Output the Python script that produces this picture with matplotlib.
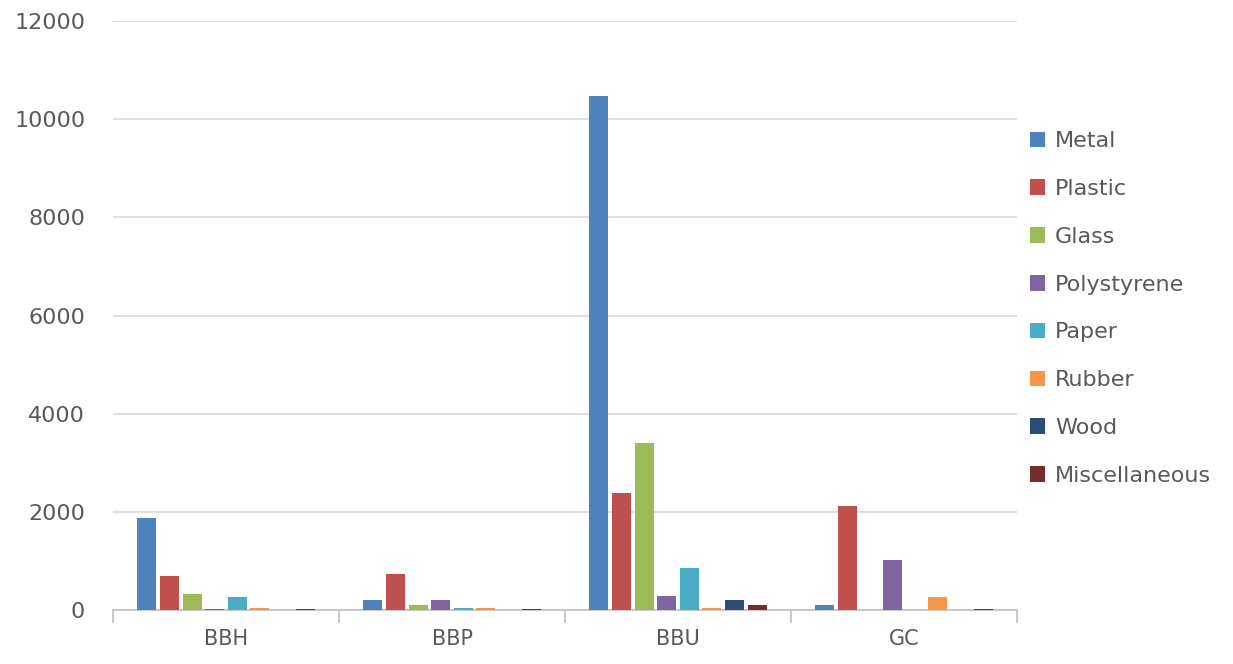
import matplotlib.pyplot as plt
import numpy as np

sites = ['BBH', 'BBP', 'BBU', 'GC']
materials = ['Metal', 'Plastic', 'Glass', 'Polystyrene', 'Paper', 'Rubber', 'Wood', 'Miscellaneous']
colors = ['#4F81BD', '#C0504D', '#9BBB59', '#8064A2', '#4BACC6', '#F79646', '#2C4D75', '#772C2A']

metal = [1880, 210, 10480, 100]
plastic = [700, 740, 2380, 2110]
glass = [330, 100, 3400, 0]
polystyrene = [30, 210, 290, 1020]
paper = [260, 50, 860, 0]
rubber = [50, 50, 40, 260]
wood = [0, 0, 210, 0]
misc = [30, 30, 100, 30]
series = [metal, plastic, glass, polystyrene, paper, rubber, wood, misc]

plt.rcParams['font.family'] = ['DejaVu Sans']
txt = '#595959'

fig = plt.figure(figsize=(12.33, 6.64), dpi=100)
ax = fig.add_axes([113/1233, 1 - 610/664, (1017-113)/1233, (610-21)/664])

X = np.arange(len(sites))
step = 0.1
for i, (name, vals) in enumerate(zip(materials, series)):
    ax.bar(X + (i - 3.5) * step, vals, 0.084, label=name, color=colors[i],
           linewidth=0, zorder=3)

ax.set_xlim(-0.5, 3.5)
ax.set_ylim(0, 12000)
ax.set_yticks(np.arange(0, 12001, 2000))
ax.yaxis.grid(True, color='#d9d9d9', linewidth=1.2, zorder=0)
ax.tick_params(axis='y', length=0, labelsize=16, labelcolor=txt, pad=20)

ax.set_xticks(np.arange(-0.5, 3.6, 1))
ax.set_xticklabels([])
ax.set_xticks(X, minor=True)
ax.set_xticklabels(sites, minor=True)
ax.tick_params(axis='x', which='major', length=9, color='#bfbfbf', width=1.2)
ax.tick_params(axis='x', which='minor', length=0, labelsize=15, labelcolor=txt, pad=14)

for s in ['top', 'right', 'left']:
    ax.spines[s].set_visible(False)
ax.spines['bottom'].set_color('#bfbfbf')
ax.spines['bottom'].set_linewidth(1.2)

ax.legend(loc='center left', bbox_to_anchor=(1.004, 0.512), frameon=False,
          fontsize=16, labelcolor=txt, handlelength=0.7, handleheight=0.7,
          handletextpad=0.45, labelspacing=1.25, borderaxespad=0.0)

plt.savefig('out.png', dpi=100)
